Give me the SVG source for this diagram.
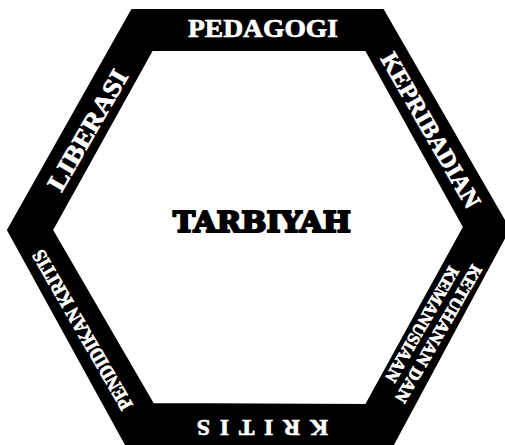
<svg xmlns="http://www.w3.org/2000/svg" width="505" height="445" viewBox="0 0 505 445">
  <style>
    .band { fill: #000; stroke: #000; stroke-width: 2; stroke-linejoin: round; fill-rule: evenodd; }
    .lbl { font-family: "Liberation Serif", "Times New Roman", serif; font-weight: bold; fill: #fff; stroke: #fff; stroke-width: 0.7; stroke-linejoin: round; text-anchor: middle; }
    .title { font-family: "DejaVu Serif", "Liberation Serif", serif; font-weight: bold; fill: #000; text-anchor: middle; stroke: #000; stroke-width: 2; stroke-linejoin: round; }
  </style>
  <rect width="505" height="445" fill="#fff"/>
  <g id="hexagon">
    <path class="band" d="M132,10 L383,10 L509,229 L389,452 L130,452 L8,230 Z M153,50 L152,50 L52,230 L153,404 L366,405 L464,227 L366,50 Z"/>
  </g>
  <g id="center">
    <text class="title" x="262" y="232" font-size="27" textLength="178" lengthAdjust="spacingAndGlyphs">TARBIYAH</text>
  </g>
  <g id="pedagogi">
    <text class="lbl" x="263" y="37" font-size="25.5" textLength="150" lengthAdjust="spacingAndGlyphs">PEDAGOGI</text>
  </g>
  <g id="kepribadian" transform="translate(431,130) rotate(60)">
    <text class="lbl" x="0" y="8.5" font-size="24.5" textLength="175" lengthAdjust="spacingAndGlyphs">KEPRIBADIAN</text>
  </g>
  <g id="ketuhanan" transform="translate(430,329) rotate(120)">
    <text class="lbl" x="0" y="-4" font-size="17.5" textLength="156" lengthAdjust="spacingAndGlyphs">KETUHANAN DAN</text>
    <text class="lbl" x="0" y="15" font-size="17.5" textLength="130" lengthAdjust="spacingAndGlyphs">KEMANUSIAAN</text>
  </g>
  <g id="kritis" transform="translate(262.5,427.5) rotate(180)">
    <text class="lbl" x="0" y="8" font-size="23.5" textLength="131" lengthAdjust="spacing" stroke-width="1.2">KRITIS</text>
  </g>
  <g id="pendidikan" transform="translate(82,330) rotate(-120)">
    <text class="lbl" x="0" y="7" font-size="20" textLength="181" lengthAdjust="spacingAndGlyphs">PENDIDIKAN KRITIS</text>
  </g>
  <g id="liberasi" transform="translate(87.5,130) rotate(-60)">
    <text class="lbl" x="0" y="9" font-size="26" textLength="135" lengthAdjust="spacingAndGlyphs">LIBERASI</text>
  </g>
</svg>
